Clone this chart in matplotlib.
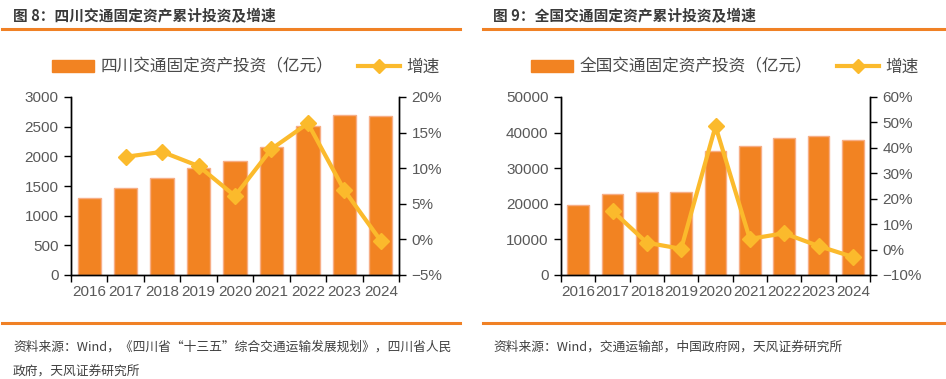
import matplotlib
matplotlib.use("Agg")
import matplotlib.pyplot as plt
import numpy as np
from matplotlib.lines import Line2D
from matplotlib.patches import Patch

plt.rcParams['font.family'] = ['Liberation Sans', 'Noto Sans CJK SC', 'DejaVu Sans']

years = ['2016', '2017', '2018', '2019', '2020', '2021', '2022', '2023', '2024']

sc_invest = [1306, 1458, 1638, 1807, 1919, 2156, 2516, 2696, 2685]
sc_growth = [np.nan, 11.6, 12.3, 10.3, 6.1, 12.7, 16.3, 6.9, -0.2]

cn_invest = [19700, 22800, 23360, 23360, 34800, 36210, 38550, 39020, 37900]
cn_growth = [np.nan, 15.2, 2.7, 0.3, 48.5, 4.2, 6.4, 1.4, -2.9]

titles = ['图 8：四川交通固定资产累计投资及增速', '图 9：全国交通固定资产累计投资及增速']
bar_labels = ['四川交通固定资产投资（亿元）', '全国交通固定资产投资（亿元）']
line_label = '增速'
sources = ['资料来源：Wind，《四川省“十三五”综合交通运输发展规划》，四川省人民\n政府，天风证券研究所',
           '资料来源：Wind，交通运输部，中国政府网，天风证券研究所']

W, H = 946, 379
fig = plt.figure(figsize=(W / 100, H / 100), dpi=100)

BAR = '#F28322'
BAR_EDGE = '#F7AE86'
LINE = '#FBBA2C'
TXT = '#595959'
CJK = ['Noto Sans CJK SC', 'DejaVu Sans']


def px_axes(x0, x1, y0, y1):
    return fig.add_axes([x0 / W, 1 - y1 / H, (x1 - x0) / W, (y1 - y0) / H])


def draw(ax, invest, growth, ylim, yticks, g_lim, g_ticks, bar_label, legend_x):
    x = np.arange(len(years))
    ax.bar(x, invest, width=0.64, color=BAR, edgecolor=BAR_EDGE, linewidth=1.0, zorder=2)
    ax.set_xlim(-0.5, len(years) - 0.5)
    ax.set_ylim(*ylim)
    ax.set_yticks(yticks)
    ax.set_yticklabels([str(v) for v in yticks])
    ax.set_xticks(x)
    ax.set_xticklabels(years)
    ax.set_xticks(np.arange(-0.5, len(years)), minor=True)
    ax.tick_params(axis='x', which='major', length=0, pad=7, labelsize=11, labelcolor=TXT)
    ax.tick_params(axis='x', which='minor', length=5, width=1, direction='out', color='#000000')
    ax.tick_params(axis='y', length=5, width=1, direction='out', labelsize=11, labelcolor=TXT, pad=4)
    ax.spines['top'].set_visible(False)
    for s in ['left', 'bottom', 'right']:
        ax.spines[s].set_color('#000000')
        ax.spines[s].set_linewidth(1)

    ax2 = ax.twinx()
    ax2.plot(x, growth, color=LINE, linewidth=3, marker='D', markersize=8,
             markerfacecolor=LINE, markeredgecolor=LINE, zorder=3)
    ax2.set_ylim(*g_lim)
    ax2.set_yticks(g_ticks)
    ax2.set_yticklabels([f'{v}%' if v >= 0 else f'\u2212{abs(v)}%' for v in g_ticks])
    ax2.tick_params(axis='y', length=5, width=1, direction='out', labelsize=11, labelcolor=TXT, pad=4)
    ax2.spines['top'].set_visible(False)
    for s in ['left', 'bottom', 'right']:
        ax2.spines[s].set_color('#000000')
        ax2.spines[s].set_linewidth(1)

    handles = [Patch(facecolor=BAR, edgecolor=BAR),
               Line2D([0], [0], color=LINE, lw=3, marker='D', markersize=7)]
    fig.legend(handles, [bar_label, line_label], loc='center left',
               bbox_to_anchor=(legend_x / W, 1 - 67 / H), ncol=2, frameon=False,
               prop={'family': CJK, 'size': 12}, labelcolor='#4a4a4a',
               handlelength=2.5, handleheight=0.7, handletextpad=0.4, columnspacing=1.5,
               borderaxespad=0, borderpad=0)


ax1 = px_axes(71, 399, 97, 275)
draw(ax1, sc_invest, sc_growth, (0, 3000), [0, 500, 1000, 1500, 2000, 2500, 3000],
     (-5, 20), [-5, 0, 5, 10, 15, 20], bar_labels[0], 52)

ax2 = px_axes(561, 870, 97, 275)
draw(ax2, cn_invest, cn_growth, (0, 50000), [0, 10000, 20000, 30000, 40000, 50000],
     (-10, 60), [-10, 0, 10, 20, 30, 40, 50, 60], bar_labels[1], 531)

# titles and rules
fig.text(13 / W, 1 - 16 / H, titles[0], fontsize=10.6, fontweight='bold', color='#3a3a3a',
         family=CJK, va='center', ha='left')
fig.text(493 / W, 1 - 16 / H, titles[1], fontsize=10.6, fontweight='bold', color='#3a3a3a',
         family=CJK, va='center', ha='left')

for (x0, x1) in [(2, 460), (483, 946)]:
    for yy in [29, 323]:
        fig.add_artist(Line2D([x0 / W, x1 / W], [1 - yy / H, 1 - yy / H], color='#F08125', lw=2.2))

fig.text(13 / W, 1 - 341 / H, sources[0], fontsize=9.2, color='#404040', family=CJK,
         va='top', ha='left', linespacing=2.1)
fig.text(493 / W, 1 - 341 / H, sources[1], fontsize=9.2, color='#404040', family=CJK,
         va='top', ha='left')

fig.savefig('out.png', dpi=100)
